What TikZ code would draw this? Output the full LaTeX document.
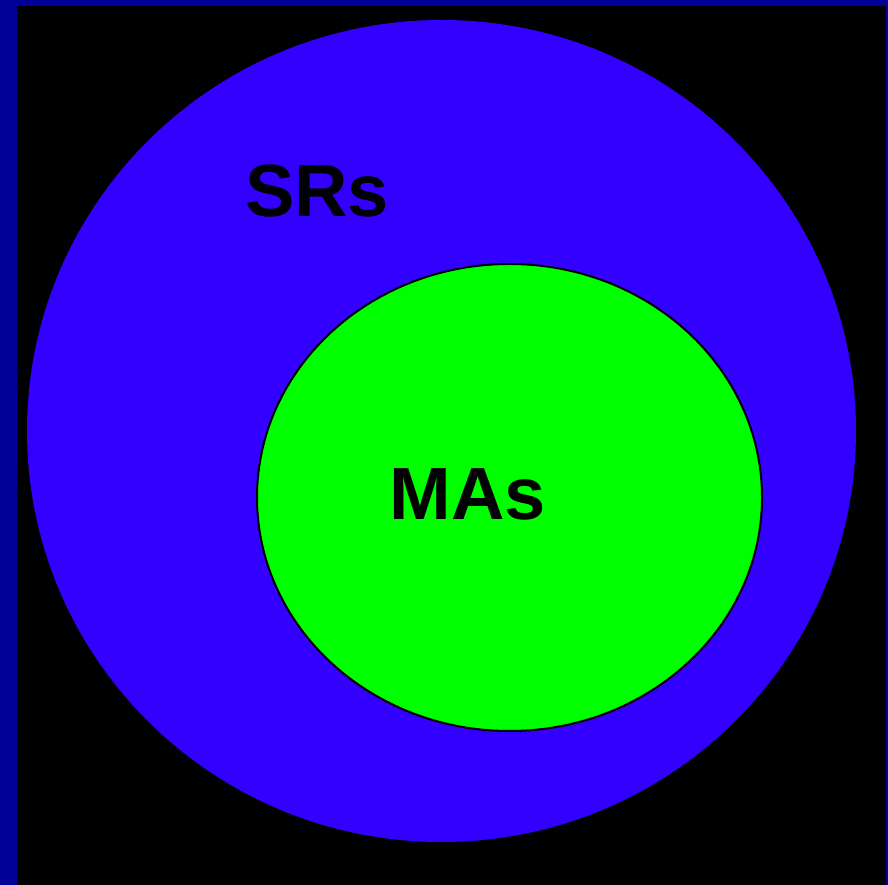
\documentclass[tikz,border=0pt]{standalone}
\usepackage{fontspec}
\setmainfont{Liberation Sans}
\definecolor{frameblue}{HTML}{000099}
\definecolor{outerblue}{HTML}{3300FF}
\definecolor{innergreen}{HTML}{00FF00}
\tikzset{
  setlabel/.style={inner sep=0pt, anchor=base, font=\fontsize{74}{78}\selectfont\bfseries, text=black},
}
\begin{document}
\begin{tikzpicture}[x=1pt,y=1pt]
\useasboundingbox (0,0) rectangle (888,885);
\fill[frameblue] (0,0) rectangle (888,885);
\fill[black] (17,0) rectangle (886,879);
\fill[outerblue] (441.5,454) ellipse [x radius=414.5, y radius=411];
\draw[black, line width=2pt, fill=innergreen] (509.5,387.5) ellipse [x radius=252.5, y radius=233.5];
\node[setlabel] (srs) at (317,668) {SRs};
\node[setlabel] (mas) at (467.5,365) {MAs};
\end{tikzpicture}
\end{document}
